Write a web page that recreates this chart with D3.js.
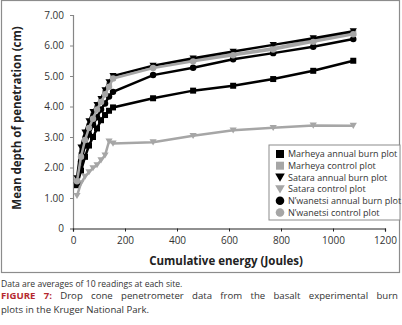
<!DOCTYPE html>
<html>
<head>
<meta charset="utf-8">
<script src="https://cdn.jsdelivr.net/npm/d3@7"></script>
<style>
  body { margin: 0; background: #fff; }
  .cap { position: absolute; left: 1px; width: 397px; font-family: "Open Sans", sans-serif; color: #333; line-height: 12px; white-space: nowrap; }
  .just { text-align: justify; text-align-last: justify; }
  .cap b { color: #b5292f; }
</style>
</head>
<body>
<svg id="chart" width="402" height="276"></svg>
<div class="cap" style="top:277.5px;font-size:8.6px">Data are averages of 10 readings at each site.</div>
<div class="cap just" style="top:290px;font-size:9.6px"><b>FIGURE 7:</b> Drop cone penetrometer data from the basalt experimental burn</div>
<div class="cap" style="top:303.5px;font-size:9.6px">plots in the Kruger National Park.</div>
<script>
// cumulative energy (J) per reading
const energy = [15.4, 30.8, 46.2, 61.6, 77, 92.4, 107.8, 123.2, 138.6, 154, 308, 462, 616, 770, 924, 1078];

const marheyaAnnual   = [1.42, 1.9, 2.35, 2.72, 3.0, 3.28, 3.55, 3.72, 3.86, 3.97, 4.27, 4.52, 4.68, 4.9, 5.17, 5.5];
const marheyaControl  = [1.55, 2.4, 2.95, 3.35, 3.7, 3.95, 4.2, 4.45, 4.7, 4.95, 5.3, 5.52, 5.71, 5.91, 6.18, 6.41];
const sataraAnnual    = [1.65, 2.66, 3.15, 3.52, 3.82, 4.05, 4.25, 4.54, 4.8, 5.0, 5.34, 5.58, 5.8, 6.02, 6.24, 6.47];
const sataraControl   = [1.07, 1.49, 1.7, 1.85, 1.98, 2.08, 2.24, 2.4, 2.86, 2.79, 2.83, 3.04, 3.22, 3.3, 3.38, 3.37];
const nwanetsiAnnual  = [1.5, 2.2, 2.72, 3.08, 3.4, 3.65, 3.9, 4.1, 4.33, 4.48, 5.03, 5.27, 5.55, 5.75, 5.96, 6.21];
const nwanetsiControl = [1.55, 2.35, 2.9, 3.3, 3.6, 3.9, 4.15, 4.4, 4.65, 4.92, 5.26, 5.48, 5.68, 5.87, 6.12, 6.37];

const seriesNames = ['Marheya annual burn plot', 'Marheya control plot', 'Satara annual burn plot',
                     'Satara control plot', 'N\u2019wanetsi annual burn plot', 'N\u2019wanetsi control plot'];
const yTicks = [0, 1, 2, 3, 4, 5, 6, 7];
const xTicks = [0, 200, 400, 600, 800, 1000, 1200];

const black = '#000', grey = '#a6a6a6';
const series = [
  {name: seriesNames[0], vals: marheyaAnnual,   color: black, shape: d3.symbolSquare},
  {name: seriesNames[1], vals: marheyaControl,  color: grey,  shape: d3.symbolSquare},
  {name: seriesNames[2], vals: sataraAnnual,    color: black, shape: 'tri'},
  {name: seriesNames[3], vals: sataraControl,   color: grey,  shape: 'tri'},
  {name: seriesNames[4], vals: nwanetsiAnnual,  color: black, shape: d3.symbolCircle},
  {name: seriesNames[5], vals: nwanetsiControl, color: grey,  shape: d3.symbolCircle}
];

const svg = d3.select('#chart');
const font = '"Open Sans", sans-serif';

// outer frame
svg.append('rect').attr('x', 1.5).attr('y', 0.5).attr('width', 398).attr('height', 272)
  .attr('fill', 'none').attr('stroke', '#8c8c8c').attr('stroke-width', 1.2);

const x = d3.scaleLinear().domain([0, 1200]).range([73, 385]);
const y = d3.scaleLinear().domain([0, 7]).range([228.5, 15]);

// y axis
const yAxis = svg.append('g').attr('transform', `translate(${x(0)},0)`)
  .call(d3.axisLeft(y).tickValues(yTicks).tickSize(3).tickPadding(6)
    .tickFormat(d => d === 0 ? '0' : d3.format('.2f')(d)));
yAxis.select('.domain').attr('stroke', '#868686').attr('stroke-width', 1.2);
yAxis.selectAll('line').attr('stroke', '#868686');
yAxis.selectAll('text').attr('font-family', font).attr('font-size', 10).attr('fill', '#333');

// x axis
const xAxis = svg.append('g').attr('transform', `translate(0,${y(0)})`)
  .call(d3.axisBottom(x).tickValues(xTicks).tickSize(3).tickPadding(5).tickFormat(d3.format('d')));
xAxis.select('.domain').attr('stroke', '#222').attr('stroke-width', 1.2);
xAxis.selectAll('line').attr('stroke', '#222');
xAxis.selectAll('text').attr('font-family', font).attr('font-size', 10).attr('fill', '#333');

// titles
svg.append('text').attr('x', 226).attr('y', 265).attr('text-anchor', 'middle')
  .attr('font-family', font).attr('font-weight', 'bold').attr('font-size', 11.5).attr('fill', '#222')
  .text('Cumulative energy (Joules)');
svg.append('text').attr('transform', 'translate(21,118) rotate(-90)').attr('text-anchor', 'middle')
  .attr('font-family', font).attr('font-weight', 'bold').attr('font-size', 11.5).attr('fill', '#222')
  .text('Mean depth of penetration (cm)');

const triPath = s => `M${-s},${-s * 0.8}L${s},${-s * 0.8}L0,${s * 0.9}Z`;
const marker = (shape, size) => shape === 'tri' ? triPath(size * 0.6)
  : d3.symbol().type(shape).size(shape === d3.symbolCircle ? size * size * 0.9 : size * size)();

const line = d3.line().x((d, i) => x(energy[i])).y(d => y(d));

series.forEach(s => {
  const g = svg.append('g');
  g.append('path').datum(s.vals).attr('d', line)
    .attr('fill', 'none').attr('stroke', s.color).attr('stroke-width', 2.5);
  g.selectAll('path.m').data(s.vals).join('path').attr('class', 'm')
    .attr('transform', (d, i) => `translate(${x(energy[i])},${y(d)})`)
    .attr('d', marker(s.shape, 6)).attr('fill', s.color);
});

// legend
const lg = svg.append('g').attr('transform', 'translate(269,145)');
lg.append('rect').attr('width', 131).attr('height', 75)
  .attr('fill', '#fff').attr('stroke', '#8c8c8c').attr('stroke-width', 1);
series.forEach((s, i) => {
  const row = lg.append('g').attr('transform', `translate(11,${9 + i * 11.7})`);
  row.append('path').attr('d', marker(s.shape, 8)).attr('fill', s.color);
  row.append('text').attr('x', 8).attr('y', 3.3)
    .attr('font-family', font).attr('font-size', 9).attr('fill', '#333').text(s.name);
});
</script>
</body>
</html>
